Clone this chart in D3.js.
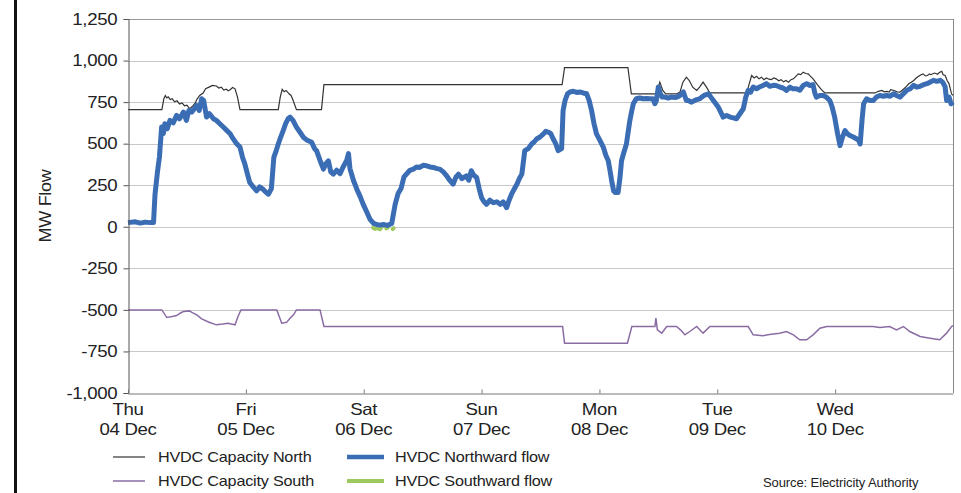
<!DOCTYPE html>
<html><head><meta charset="utf-8">
<script src="https://cdn.jsdelivr.net/npm/d3@7"></script>
<style>
body{margin:0;background:#fff}
text{font-family:"Liberation Sans",Arial,Helvetica,sans-serif;fill:#222}
</style>
</head><body>
<svg id="chart" width="961" height="493"></svg>
<script>
// ---- DATA (hours after Thu 04 Dec 00:00, MW) ----
const dayLabels = ["Thu","Fri","Sat","Sun","Mon","Tue","Wed"];
const dateLabels = ["04 Dec","05 Dec","06 Dec","07 Dec","08 Dec","09 Dec","10 Dec"];
const yTicks = [-1000,-750,-500,-250,0,250,500,750,1000,1250];

const northFlowHours = [0,1.5,2.5,3.5,4.5,5.2,5.5,6.0,6.4,6.85,7.2,7.5,8.0,8.55,9.2,9.9,10.5,11.3,11.9,12.4,13.0,13.5,14.0,14.5,15.0,15.4,16.0,16.6,17.4,18.0,18.7,19.4,20.1,20.8,21.4,22.1,22.8,23.3,23.8,24.3,24.8,25.5,26.2,26.8,27.5,28.0,28.6,29.2,29.7,30.2,30.6,31.1,31.6,32.1,32.6,33.0,33.6,34.3,35.0,35.7,36.5,37.4,38.0,38.4,39.1,39.8,40.3,40.8,41.3,41.8,42.5,43.2,43.8,44.5,44.9,45.2,45.9,46.6,47.3,47.9,48.6,49.3,50.0,50.6,51.3,52.0,52.8,53.7,54.4,55.0,55.6,56.2,56.7,57.4,58.1,58.8,59.4,60.1,60.8,61.5,62.2,62.9,63.5,64.2,64.9,65.5,66.2,66.8,67.3,68.0,68.9,69.4,69.9,70.4,71.0,71.5,72.0,72.5,73.0,73.7,74.4,75.1,75.8,76.4,77.1,77.6,78.1,78.7,79.2,79.7,80.2,80.8,81.5,82.2,82.7,83.2,83.9,84.6,85.1,85.6,86.1,86.6,87.1,87.6,88.3,88.6,89.0,89.5,90.0,90.7,91.4,92.0,92.7,93.4,93.9,94.4,94.9,95.4,96.1,96.8,97.3,97.8,98.2,98.5,98.9,99.2,99.8,100.2,100.5,101.0,101.5,101.8,102.2,102.6,102.9,103.5,104.2,104.9,105.6,106.3,106.9,107.3,107.6,108.0,108.4,108.8,109.3,110.0,110.7,111.4,112.0,112.4,113.1,113.7,114.1,114.7,115.1,115.8,116.4,117.3,118.2,118.7,119.2,119.7,120.2,120.7,121.2,121.9,122.6,123.3,123.9,124.6,125.3,125.8,126.3,126.8,127.3,128.0,128.6,129.3,130.0,130.7,131.4,132.0,132.7,133.4,134.1,134.8,135.4,136.1,136.8,137.5,138.2,138.8,139.5,139.9,140.2,140.9,141.6,142.2,142.9,143.4,143.9,144.5,145.0,145.5,146.0,146.5,147.0,147.7,148.4,148.8,149.1,149.5,149.8,150.4,151.1,151.8,152.4,153.1,153.8,154.5,155.2,155.9,156.5,157.2,157.9,158.6,159.3,160.0,160.6,161.3,162.0,162.7,163.3,164.0,164.7,165.4,165.9,166.4,166.7,167.2,167.6,168.0];
const northFlow = [25,30,22,28,25,25,195,330,420,600,560,620,590,640,625,670,650,690,640,700,690,710,730,700,770,760,660,680,650,640,620,600,580,560,530,500,480,420,377,320,266,240,216,240,226,210,196,230,418,460,498,540,579,620,650,660,640,600,570,539,520,508,470,458,400,347,380,397,330,317,340,320,360,397,440,350,280,226,180,135,90,44,20,14,10,14,8,20,135,200,230,300,317,340,347,360,357,370,367,360,357,350,347,330,306,280,256,300,316,290,306,280,337,310,296,230,175,150,135,160,145,150,135,150,115,160,196,230,256,290,317,458,470,498,510,528,540,559,575,569,560,528,500,458,470,700,760,800,811,815,808,811,805,800,760,700,620,559,520,478,430,397,330,276,215,206,206,300,397,450,498,560,640,700,740,770,775,770,772,770,770,740,760,841,800,780,780,775,780,778,782,790,811,760,760,750,755,765,770,790,800,780,760,740,720,690,660,670,660,655,650,680,710,780,821,810,841,830,841,850,861,845,851,850,841,835,821,840,831,830,821,850,861,850,855,800,780,790,790,780,760,720,660,560,488,540,579,560,549,540,528,520,498,650,740,770,760,760,780,790,785,790,785,800,790,780,800,821,830,851,840,845,855,861,870,881,875,881,870,841,760,780,740,750];

const southFlowHours = [49.9,50.3,50.8,51.3,51.6, 52.3,52.6,52.9, 53.6,53.9,54.1];
const southFlow      = [-6,-12,-8,-14,-5, null,-10,-6, null,-14,-8];

const capNorthHours = [0,6.9,7.3,7.6,7.9,8.2,8.6,9.0,9.5,10.0,10.5,11.0,11.5,12.0,12.6,13.3,13.7,14.0,14.6,15.3,15.8,16.5,17.2,18.0,18.5,19.0,19.5,20.0,20.4,20.8,21.3,21.8,22.3,22.8,30.6,31.0,31.4,31.8,32.2,32.8,33.2,33.5,34.3,39.4,39.9,88.4,88.9,101.8,102.5,107.6,108.3,108.9,109.5,111.8,112.4,113.0,113.7,114.3,115.0,115.8,116.4,117.1,117.8,118.5,126.0,126.5,127.0,127.5,128.0,128.5,129.0,129.5,130.0,130.5,131.0,131.5,132.0,132.5,133.0,133.5,134.0,134.5,135.0,135.5,136.0,136.5,137.0,137.5,138.0,138.5,139.0,139.5,140.0,140.5,141.2,141.9,152.1,152.8,153.5,154.0,154.5,155.0,155.3,156.0,156.6,157.2,157.6,158.0,158.5,159.0,159.5,160.0,160.5,161.0,161.5,161.9,162.4,162.8,163.2,163.5,164.0,164.3,164.8,165.3,165.7,166.0,166.4,166.8,167.2,167.7,168.0];
const capNorth = [705,705,770,790,775,782,765,770,752,758,738,745,728,732,710,730,745,765,790,805,830,840,850,847,835,840,822,828,818,825,838,830,780,705,705,780,827,812,820,800,790,770,705,705,855,855,958,958,800,800,870,820,800,800,810,870,900,880,840,820,840,870,840,805,805,860,910,895,905,890,900,885,895,888,885,895,890,878,885,872,880,870,885,890,905,920,915,930,922,920,905,890,870,850,825,805,805,815,820,812,815,810,825,820,812,810,820,830,845,860,870,880,895,905,915,920,908,910,920,915,922,925,918,930,935,915,910,880,860,800,790];

const capSouthHours = [0,6.9,7.9,9.0,9.9,10.6,11.3,12.5,13.0,14.0,15.0,16.5,18.0,19.3,20.4,21.0,21.8,22.4,23.0,30.3,31.3,32.3,33.0,33.7,34.3,39.1,39.9,88.5,88.9,101.7,102.6,107.3,107.5,107.8,108.7,109.7,111.7,112.5,113.4,114.4,115.8,117.1,118.5,126.3,127.3,128.3,129.3,130.3,131.4,132.7,134.1,135.5,136.8,138.2,139.5,140.9,142.3,151.7,153.1,155.1,156.5,157.9,159.2,161.3,163.3,165.3,166.7,167.7,168.0];
const capSouth = [-500,-500,-546,-540,-534,-520,-510,-506,-515,-530,-554,-574,-590,-585,-580,-585,-590,-540,-500,-500,-580,-575,-550,-530,-500,-500,-600,-600,-700,-700,-600,-600,-550,-620,-640,-600,-600,-620,-650,-630,-600,-640,-600,-600,-650,-652,-655,-650,-645,-640,-630,-650,-680,-680,-650,-610,-600,-600,-606,-600,-620,-600,-630,-660,-670,-680,-640,-600,-595];

const legendItems = ["HVDC Capacity North","HVDC Northward flow","HVDC Capacity South","HVDC Southward flow"];

// ---- CHART ----
const svg = d3.select("#chart");
const start = new Date(2014, 11, 4);
const end = new Date(2014, 11, 11);
const L = 128, R = 953, T = 19, B = 393;
const x = d3.scaleTime().domain([start, end]).range([L, R]);
const y = d3.scaleLinear().domain([-1000, 1250]).range([B, T]);
const t = h => d3.timeMinute.offset(start, Math.round(h * 60));
const fmt = v => d3.format(",")(Math.abs(v)).replace(/^/, v < 0 ? "-" : "");

// left page frame line
svg.append("rect").attr("x", 14).attr("y", 0).attr("width", 3).attr("height", 493).attr("fill", "#111");

// gridlines
svg.append("g").selectAll("line").data(yTicks.filter(v => v > -1000)).join("line")
  .attr("x1", L).attr("x2", R).attr("y1", d => Math.round(y(d)) + 0.5).attr("y2", d => Math.round(y(d)) + 0.5)
  .attr("stroke", d => d === 1250 ? "#999" : "#c8c8c8").attr("stroke-width", 1);
// right border
svg.append("line").attr("x1", R + 0.5).attr("x2", R + 0.5).attr("y1", T).attr("y2", B).attr("stroke", "#888");

// lines
const mk = (hrs, vals) => hrs.map((h, i) => ({ t: t(h), v: vals[i] }));
const line = d3.line().defined(d => d.v !== null).x(d => x(d.t)).y(d => y(d.v));

svg.append("path").datum(mk(capSouthHours, capSouth)).attr("d", line)
  .attr("fill", "none").attr("stroke", "#8a6ca3").attr("stroke-width", 1.5);
svg.append("path").datum(mk(capNorthHours, capNorth)).attr("d", line)
  .attr("fill", "none").attr("stroke", "#333").attr("stroke-width", 1.2);
svg.append("path").datum(mk(southFlowHours, southFlow)).attr("d", line)
  .attr("fill", "none").attr("stroke", "#9dc95e").attr("stroke-width", 4).attr("stroke-linecap", "round");
svg.append("path").datum(mk(northFlowHours, northFlow)).attr("d", line)
  .attr("fill", "none").attr("stroke", "#3b6db5").attr("stroke-width", 5).attr("stroke-linejoin", "round");

// y axis
const yAxis = svg.append("g").attr("transform", `translate(${L + 0.5},0)`)
  .call(d3.axisLeft(y).tickValues(yTicks).tickFormat(fmt).tickSize(5).tickPadding(5));
yAxis.select(".domain").attr("stroke", "#555");
yAxis.selectAll(".tick line").attr("stroke", "#555");
yAxis.selectAll("text").attr("font-size", 16.5).attr("fill", "#222")
  .attr("transform", "scale(1.13,1)").attr("letter-spacing", -0.3);

// x axis
const days = d3.range(7).map(i => d3.timeDay.offset(start, i));
const xAxis = svg.append("g").attr("transform", `translate(0,${B + 0.5})`)
  .call(d3.axisBottom(x).tickValues(days).tickSizeInner(-4).tickSizeOuter(0).tickFormat(""));
xAxis.select(".domain").attr("stroke", "#777");
xAxis.selectAll(".tick line").attr("stroke", "#777");
const lbl = svg.append("g");
days.forEach((d, i) => {
  const g = lbl.append("g").attr("transform", `translate(${x(d)},0)`);
  const tx = g.append("text").attr("text-anchor", "middle").attr("font-size", 16.5)
    .attr("transform", "scale(1.13,1)").attr("letter-spacing", -0.3);
  tx.append("tspan").attr("x", 0).attr("y", 415).text(dayLabels[i]);
  tx.append("tspan").attr("x", 0).attr("y", 435).text(dateLabels[i]);
});

// y title
svg.append("text").attr("transform", "translate(51,206) rotate(-90) scale(1.13,1)")
  .attr("text-anchor", "middle").attr("font-size", 16).attr("letter-spacing", -0.3).text("MW Flow");

// legend
const legPos = [[113, 457], [347, 457], [113, 481], [347, 481]];
const legStyle = [["#333", 1.2], ["#3b6db5", 4.5], ["#8a6ca3", 1.5], ["#9dc95e", 4]];
legendItems.forEach((name, i) => {
  const [lx, ly] = legPos[i];
  const w = i % 2 === 0 ? 32 : 37;
  svg.append("line").attr("x1", lx).attr("x2", lx + w).attr("y1", ly).attr("y2", ly)
    .attr("stroke", legStyle[i][0]).attr("stroke-width", legStyle[i][1]);
  svg.append("text").attr("transform", `translate(${lx + w + (i % 2 === 0 ? 13 : 11)},${ly + 5}) scale(1.08,1)`)
    .attr("font-size", 15).attr("letter-spacing", -0.2).text(name);
});
svg.append("text").attr("x", 763).attr("y", 487).attr("font-size", 13).attr("letter-spacing", -0.1)
  .text("Source: Electricity Authority");
</script>
</body></html>
